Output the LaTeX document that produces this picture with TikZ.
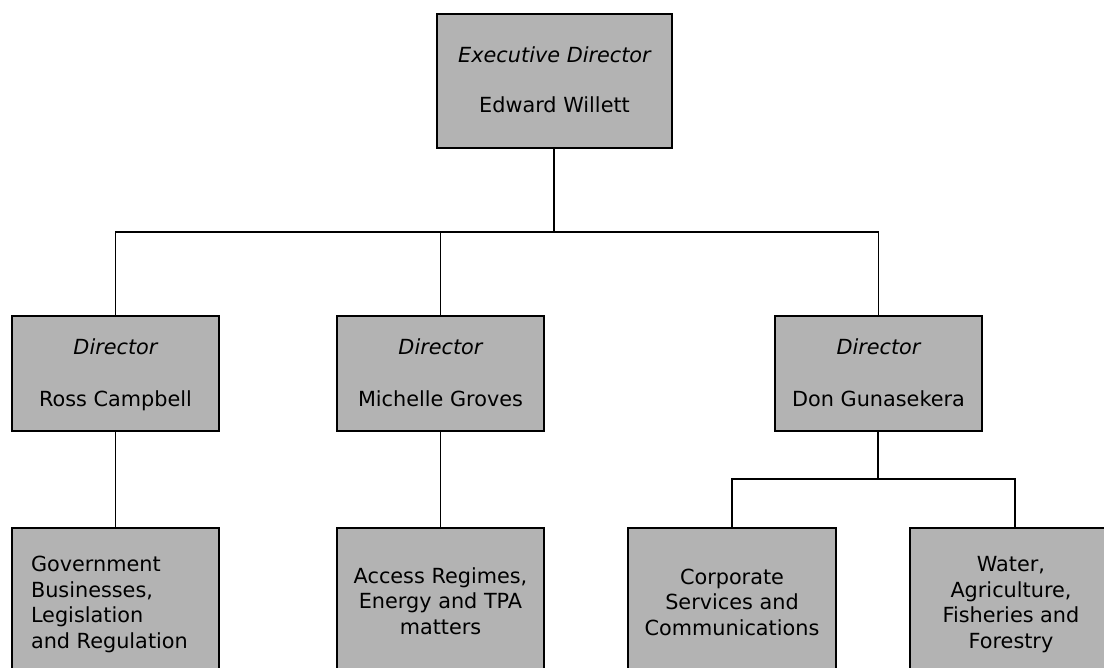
\documentclass[tikz,border=0pt]{standalone}
\usepackage{fontspec}
\setmainfont{DejaVu Sans}
\definecolor{boxgray}{RGB}{179,179,179}
\begin{document}
\begin{tikzpicture}[x=1pt,y=-1pt,
  box/.style={draw=black,line width=2pt,fill=boxgray,rectangle,inner sep=0pt,outer sep=0pt},
  txt/.style={inner sep=0pt,outer sep=0pt,font=\fontsize{20.8}{25.5}\selectfont},
  thinline/.style={line width=1.5pt,black},
  thickline/.style={line width=2.8pt,black}]
\useasboundingbox (0,0) rectangle (1104,668);
\clip (0,0) rectangle (1104,668);
% boxes
\node[box,minimum width=235pt,minimum height=134pt] (top) at (554.5,81) {};
\node[box,minimum width=207pt,minimum height=115pt] (dA) at (115.5,373.5) {};
\node[box,minimum width=207pt,minimum height=115pt] (dB) at (440.5,373.5) {};
\node[box,minimum width=207pt,minimum height=115pt] (dC) at (878.5,373.5) {};
\node[box,minimum width=207pt,minimum height=172pt] (bL) at (115.5,614) {};
\node[box,minimum width=207pt,minimum height=172pt] (bM) at (440.5,614) {};
\node[box,minimum width=208pt,minimum height=172pt] (bC) at (732,614) {};
\node[box,minimum width=210pt,minimum height=172pt] (bW) at (1015,614) {};
% texts
\node[txt,anchor=base] (t1) at (554.5,63) {\itshape Executive Director};
\node[txt,anchor=base] (t2) at (554.5,113) {Edward Willett};
\node[txt,anchor=base] (tA1) at (115.5,355) {\itshape Director};
\node[txt,anchor=base] (tA2) at (115.5,407) {Ross Campbell};
\node[txt,anchor=base] (tB1) at (440.5,355) {\itshape Director};
\node[txt,anchor=base] (tB2) at (440.5,407) {Michelle Groves};
\node[txt,anchor=base] (tC1) at (878.5,355) {\itshape Director};
\node[txt,anchor=base] (tC2) at (878.5,407) {Don Gunasekera};
% multi-line nodes: base anchor is the baseline of the last line
\node[txt,anchor=base west,align=left] (tL) at (31,648) {Government\\Businesses,\\Legislation\\and Regulation};
\node[txt,anchor=base,align=center] (tM) at (440.5,634) {Access Regimes,\\Energy and TPA\\matters};
\node[txt,anchor=base,align=center] (tCo) at (732,635) {Corporate\\Services and\\Communications};
\node[txt,anchor=base,align=center] (tW) at (1011,648) {Water,\\Agriculture,\\Fisheries and\\Forestry};
% connectors
\coordinate (hub) at (554,232);
\coordinate (hub2) at (878,479);
\draw[thinline] (dA.north) -- (dA.north |- hub) -- (dC.north |- hub) -- (dC.north);
\draw[thinline] (dB.north) -- (dB.north |- hub);
\draw[thickline] (top.south -| hub) -- (hub) -- (dB.north |- hub);
\draw[thinline] (dA.south) -- (bL.north);
\draw[thinline] (dB.south) -- (bM.north);
\draw[thickline] (dC.south -| hub2) -- (hub2);
\draw[thinline] (bC.north) -- (bC.north |- hub2) -- (bW.north |- hub2) -- (bW.north);
\end{tikzpicture}
\end{document}
